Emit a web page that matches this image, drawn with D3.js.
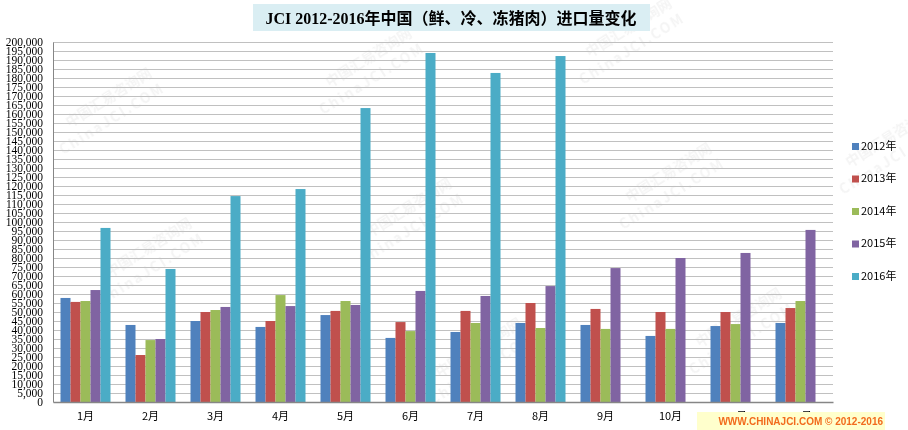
<!DOCTYPE html>
<html lang="zh">
<head>
<meta charset="utf-8">
<title>JCI 猪肉进口量</title>
<script src="https://d3js.org/d3.v7.min.js"></script>
<style>
  body { margin: 0; background: #fff; }
  svg { display: block; }
</style>
</head>
<body>
<div id="chart"></div>
<script>

// data (吨)
var months = ["1月", "2月", "3月", "4月", "5月", "6月", "7月", "8月", "9月", "10月", "11月", "12月"];
var years = ["2012年", "2013年", "2014年", "2015年", "2016年"];
var colors = ["#4F81BD", "#C0504D", "#9BBB59", "#8064A2", "#4BACC6"];
var v2012 = [57800, 42800, 45000, 41700, 48300, 35600, 38900, 43900, 42800, 36700, 42200, 43900];
var v2013 = [55600, 26100, 50000, 45000, 50600, 44400, 50600, 55000, 51700, 50000, 50000, 52200];
var v2014 = [56100, 34400, 51100, 59400, 56100, 39400, 43900, 41100, 40600, 40600, 43300, 56100];
var v2015 = [62200, 35000, 52800, 53300, 53900, 61700, 58900, 64400, 74400, 80000, 82800, 95600];
var v2016 = [96700, 73900, 114400, 118300, 163300, 193900, 182800, 192200, null, null, null, null];
var series = [v2012, v2013, v2014, v2015, v2016];
var yTicks = d3.range(0, 200001, 5000);

var W = 908, H = 430;
var margin = {top: 42, right: 75, bottom: 28, left: 53},
    width = W - margin.left - margin.right,
    height = H - margin.top - margin.bottom;

var svg = d3.select("#chart").append("svg")
    .attr("width", W)
    .attr("height", H);

// ---- faint watermark ----
var wm = svg.append("g").attr("fill", "#000").attr("opacity", 0.045)
    .style("font-family", "'Noto Sans CJK SC', sans-serif")
    .style("font-weight", "bold");
var wmPos = [[60, 150], [320, 110], [580, 80], [100, 300], [360, 260], [620, 225], [840, 190], [430, 400], [690, 370]];
wmPos.forEach(function(p) {
  var g = wm.append("g").attr("transform", "translate(" + p[0] + "," + p[1] + ") rotate(-32)");
  g.append("text").attr("x", 20).attr("y", -14).style("font-size", "14px").text("中国汇易咨询网");
  g.append("text").attr("x", 0).attr("y", 6).style("font-size", "14px").style("letter-spacing", "2px").text("ChinaJCI.COM");
});

var plot = svg.append("g")
    .attr("transform", "translate(" + margin.left + "," + margin.top + ")");

var x0 = d3.scaleBand().domain(months).range([0, width]).paddingInner(0).paddingOuter(0);
var x1 = d3.scaleBand().domain(years).range([7.5, x0.bandwidth() - 7.5]);
var y = d3.scaleLinear().domain([0, 200000]).range([height, 0]);

// gridlines
plot.append("g")
  .selectAll("line")
  .data(yTicks.slice(1))
  .enter()
  .append("line")
    .attr("x1", 0)
    .attr("x2", width)
    .attr("y1", function(d) { return Math.round(y(d)) + 0.5; })
    .attr("y2", function(d) { return Math.round(y(d)) + 0.5; })
    .attr("stroke", "#c0c0c0");

// bars
var groups = plot.append("g")
  .selectAll("g")
  .data(months)
  .enter()
  .append("g")
    .attr("transform", function(d) { return "translate(" + x0(d) + ",0)"; });

groups.selectAll("rect")
  .data(function(m, i) {
    return series.map(function(s, k) { return {year: years[k], k: k, v: s[i]}; })
      .filter(function(d) { return d.v != null; });
  })
  .enter()
  .append("rect")
    .attr("x", function(d) { return x1(d.year); })
    .attr("y", function(d) { return y(d.v); })
    .attr("width", x1.bandwidth())
    .attr("height", function(d) { return height - y(d.v); })
    .attr("fill", function(d) { return colors[d.k]; });

// y axis
var yAxis = plot.append("g")
    .call(d3.axisLeft(y).tickValues(yTicks).tickSize(0).tickPadding(10)
      .tickFormat(d3.format(",")));
yAxis.select(".domain").attr("stroke", "#868686");
yAxis.selectAll("text")
    .style("font-family", "'Liberation Serif', 'Times New Roman', serif")
    .style("font-size", "11.5px")
    .attr("fill", "#000");

// x axis
var xAxis = plot.append("g")
    .attr("transform", "translate(0," + height + ")")
    .call(d3.axisBottom(x0).tickSize(0).tickPadding(10));
xAxis.select(".domain").attr("stroke", "#868686").attr("stroke-width", 1.5);
xAxis.selectAll("text")
    .style("font-family", "'Noto Sans CJK SC', 'Liberation Sans', sans-serif")
    .style("font-size", "11px")
    .attr("fill", "#000");

// legend
var legend = svg.append("g")
  .selectAll("g")
  .data(years)
  .enter()
  .append("g")
    .attr("transform", function(d, i) { return "translate(852," + (147 + i * 32.5) + ")"; });
legend.append("rect")
    .attr("x", 0).attr("y", -4)
    .attr("width", 7).attr("height", 7)
    .attr("fill", function(d, i) { return colors[i]; });
legend.append("text")
    .attr("x", 9).attr("y", 0)
    .attr("dominant-baseline", "middle")
    .style("font-family", "'Noto Sans CJK SC', 'Liberation Sans', sans-serif")
    .style("font-size", "11px")
    .text(function(d) { return d; });

// title
svg.append("rect")
    .attr("x", 253).attr("y", 4)
    .attr("width", 397).attr("height", 27)
    .attr("fill", "#DAEEF3");
svg.append("text")
    .attr("x", 451).attr("y", 24)
    .attr("text-anchor", "middle")
    .style("font-family", "'Liberation Serif', 'Noto Sans CJK SC', serif")
    .style("font-weight", "bold")
    .style("font-size", "16px")
    .text("JCI  2012-2016年中国（鲜、冷、冻猪肉）进口量变化");

// copyright box
svg.append("rect")
    .attr("x", 697).attr("y", 412)
    .attr("width", 188).attr("height", 18)
    .attr("fill", "#FFFFCC");
svg.append("text")
    .attr("x", 883).attr("y", 425)
    .attr("text-anchor", "end")
    .attr("fill", "#F26B1D")
    .style("font-family", "'Liberation Sans', Arial, sans-serif")
    .style("font-weight", "bold")
    .style("font-size", "10px")
    .text("WWW.CHINAJCI.COM © 2012-2016");

</script>
</body>
</html>
